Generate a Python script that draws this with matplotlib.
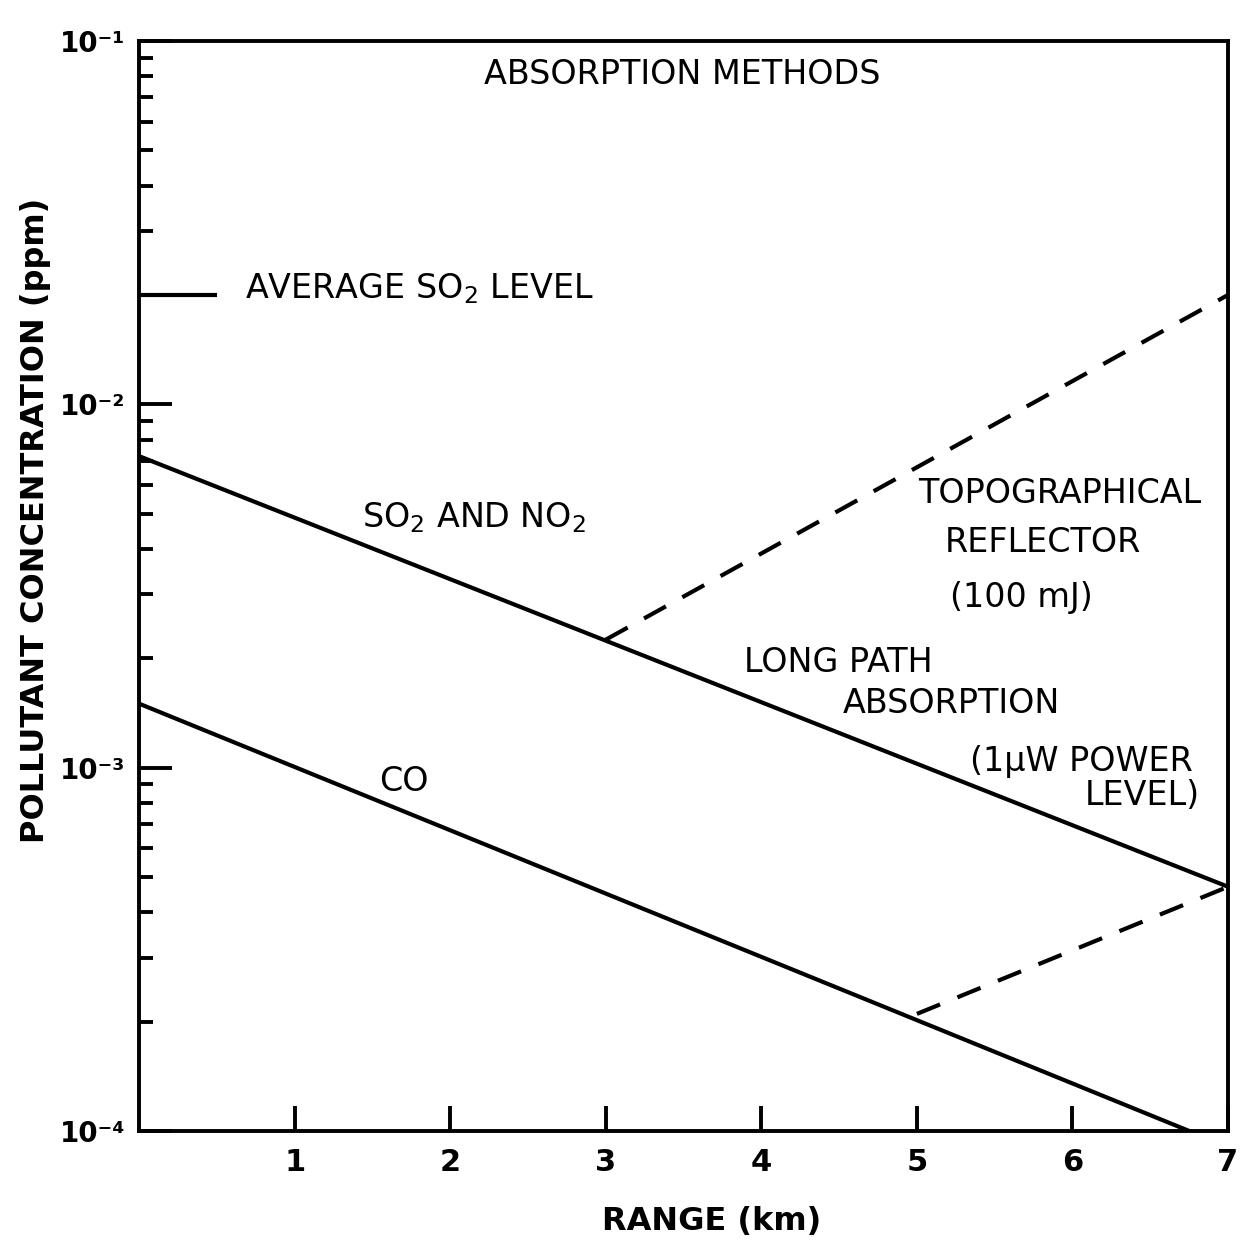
import numpy as np
import matplotlib
matplotlib.use("Agg")
import matplotlib.pyplot as plt
from matplotlib.ticker import LogLocator, NullFormatter, FixedLocator

plt.rcParams['font.family'] = ['DejaVu Sans']
plt.rcParams['mathtext.default'] = 'regular'

# --- data ---
so2_no2_x = [0, 7]
so2_no2_y = [7.2e-3, 4.7e-4]

co_x = [0, 6.75]
co_y = [1.5e-3, 1.0e-4]

topo_x = [3, 7]
topo_y = [2.25e-3, 2.0e-2]

co_ext_x = [5, 7]
co_ext_y = [2.1e-4, 4.7e-4]

avg_so2_x = [0, 0.5]
avg_so2_y = [2.0e-2, 2.0e-2]

x_ticks = [1, 2, 3, 4, 5, 6, 7]
x_tick_labels = ['1', '2', '3', '4', '5', '6', '7']
y_ticks = [1e-4, 1e-3, 1e-2, 1e-1]
y_tick_labels = ['10⁻⁴', '10⁻³', '10⁻²', '10⁻¹']

# annotation text: (x, y, text, ha)
notes = [
    (3.49, 7.6e-2, 'ABSORPTION METHODS', 'center'),
    (0.68, 1.96e-2, 'AVERAGE SO$_2$ LEVEL', 'left'),
    (1.43, 4.6e-3, 'SO$_2$ AND NO$_2$', 'left'),
    (1.54, 8.6e-4, 'CO', 'left'),
    (5.01, 5.35e-3, 'TOPOGRAPHICAL', 'left'),
    (5.18, 3.92e-3, 'REFLECTOR', 'left'),
    (5.21, 2.77e-3, '(100 mJ)', 'left'),
    (3.89, 1.83e-3, 'LONG PATH', 'left'),
    (4.52, 1.41e-3, 'ABSORPTION', 'left'),
    (5.34, 9.8e-4, '(1μW POWER', 'left'),
    (6.82, 7.9e-4, 'LEVEL)', 'right'),
]

fig = plt.figure(figsize=(12.46, 12.45), dpi=100)
ax = fig.add_axes([0.1116, 0.0916, 0.874, 0.8755])

ax.set_yscale('log')
ax.set_xlim(0, 7)
ax.set_ylim(1e-4, 1e-1)

lw = 3.0
ax.plot(so2_no2_x, so2_no2_y, color='black', lw=lw, solid_capstyle='butt')
ax.plot(co_x, co_y, color='black', lw=lw, solid_capstyle='butt')
ax.plot(topo_x, topo_y, color='black', lw=lw, dashes=(6, 4.5))
ax.plot(co_ext_x, co_ext_y, color='black', lw=lw, dashes=(6, 4.5))
ax.plot(avg_so2_x, avg_so2_y, color='black', lw=lw, solid_capstyle='butt')

for x, y, t, ha in notes:
    ax.text(x, y, t, ha=ha, va='baseline', fontsize=24, color='black')

# axes styling
for s in ax.spines.values():
    s.set_linewidth(2.8)

ax.xaxis.set_major_locator(FixedLocator(x_ticks))
ax.set_xticklabels(x_tick_labels, fontsize=22, fontweight='bold')
ax.tick_params(axis='x', which='major', direction='in', length=18, width=2.8,
               pad=12, top=False)

ax.yaxis.set_major_locator(FixedLocator(y_ticks))
ax.set_yticklabels(y_tick_labels, fontsize=20, fontweight='bold')
ax.yaxis.set_minor_locator(LogLocator(base=10, subs=np.arange(2, 10)))
ax.yaxis.set_minor_formatter(NullFormatter())
ax.tick_params(axis='y', which='major', direction='in', length=24, width=2.8,
               pad=10, right=False)
ax.tick_params(axis='y', which='minor', direction='in', length=10, width=2.8,
               right=False)

ax.set_xlabel('RANGE (km)', fontsize=23, fontweight='bold')
ax.xaxis.set_label_coords(0.526, -0.069)
ax.set_ylabel('POLLUTANT CONCENTRATION (ppm)', fontsize=23, fontweight='bold')
ax.yaxis.set_label_coords(-0.081, 0.56)

fig.savefig('out.png', dpi=100, facecolor='white')
